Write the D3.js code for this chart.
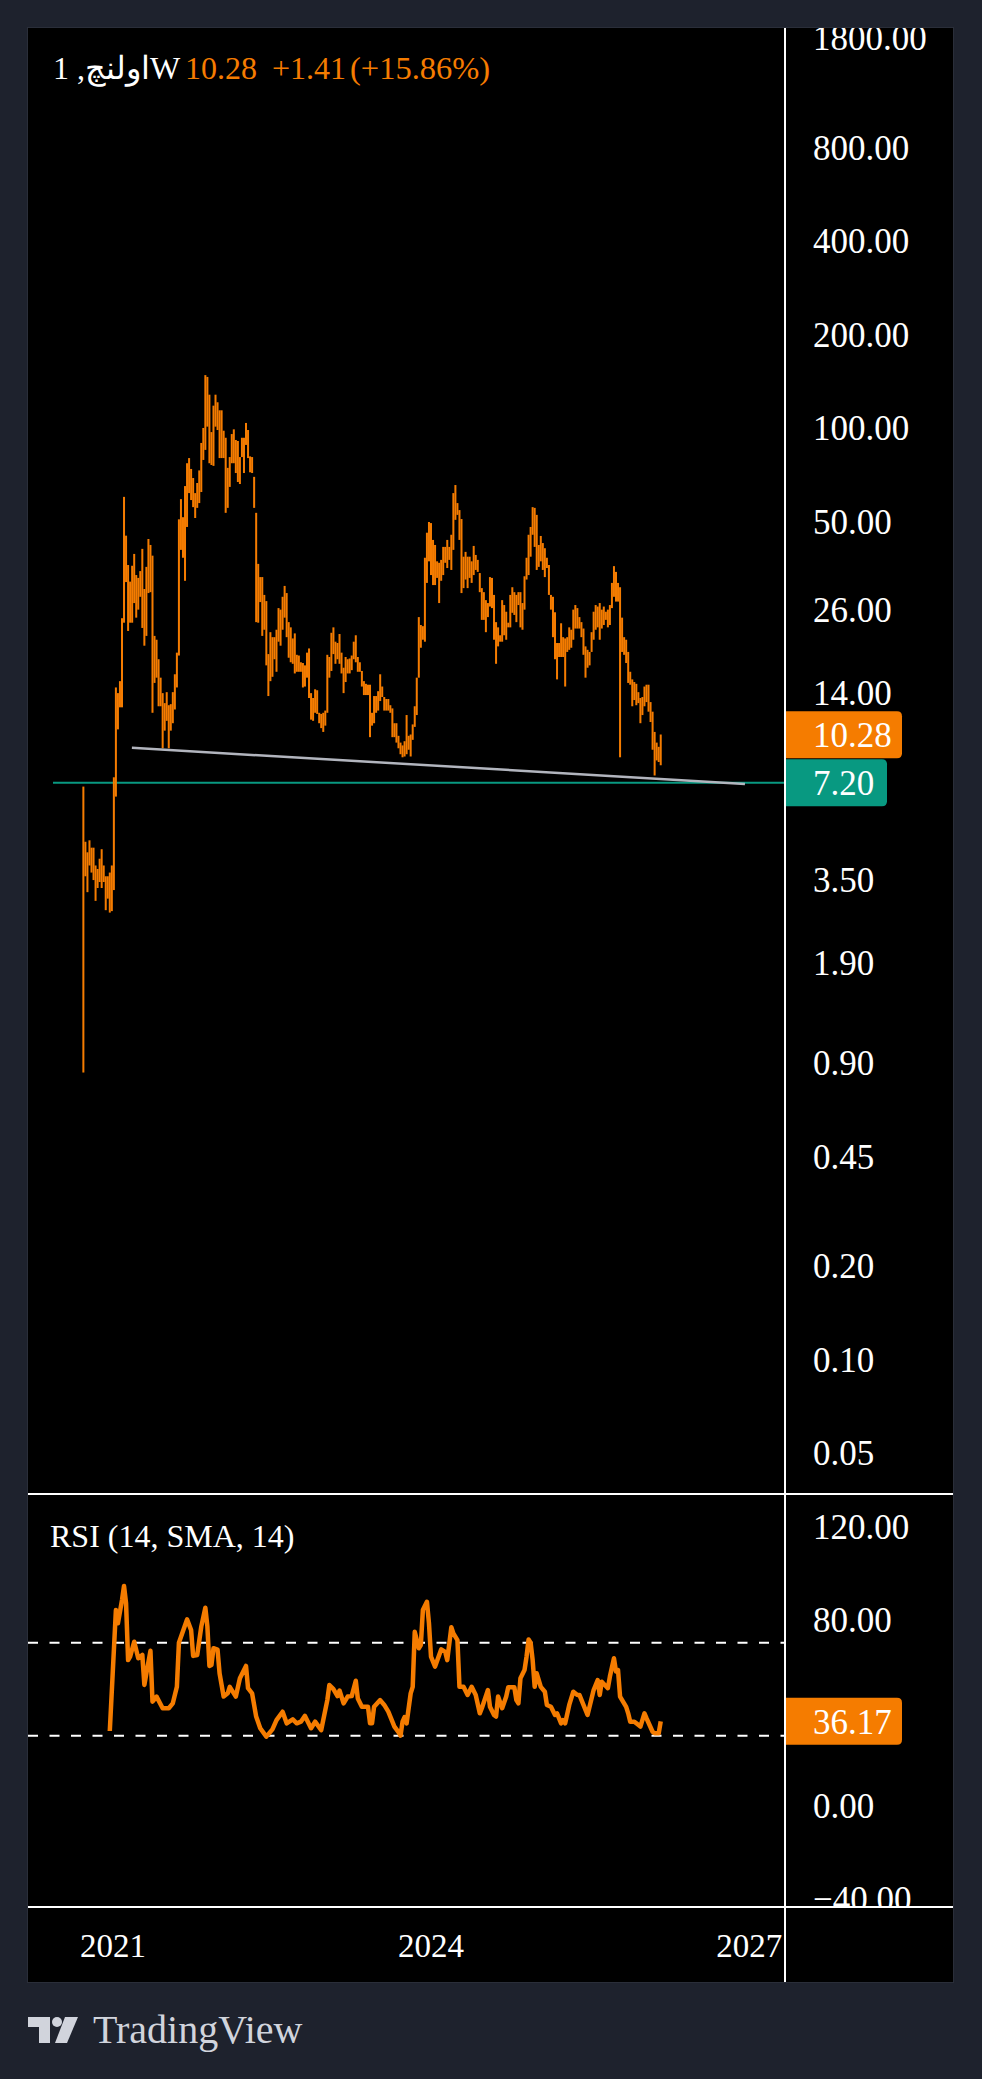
<!DOCTYPE html>
<html lang="fa">
<head>
<meta charset="UTF-8">
<title>اولنچ, 1W</title>
<script src="https://cdn.jsdelivr.net/npm/d3@7"></script>
<style>
  html, body { margin: 0; padding: 0; background: #1e222d; }
  svg { display: block; }
  text { font-family: "Liberation Serif", "DejaVu Serif", serif; }
</style>
</head>
<body>
<svg id="chart" width="982" height="2079"></svg>
<script>
  // weekly bars, first one on the week of 21 Sep 2020
  const firstWeek = new Date(2020, 8, 21);

  const weeklyHigh = [
    7.0, 4.65, 4.3, 4.7, 4.45, 4.45, 3.9, 3.8, 4.1, 4.4,          // 0
    3.9, 3.6, 3.6, 3.7, 3.9, 7.5, 14.6, 14, 15.3, 24.4,           // 10
    60, 45, 36.2, 32, 36, 39.3, 33.6, 32.9, 34.6, 40.8,           // 20
    30.3, 35.7, 43.9, 42, 38.8, 21.4, 20.8, 18, 15.7, 14,         // 30
    13, 14.1, 12.8, 12.9, 14.1, 16.1, 18.9, 50.8, 59, 51.6,       // 40
    65, 77, 80, 73.8, 69, 61.7, 66.5, 73, 89.5, 100,              // 50
    148, 146, 128, 97, 118, 128, 121, 114, 114, 98,               // 60
    93, 74.4, 80.6, 95.6, 99, 91.5, 90.8, 80.6, 93, 93,           // 70
    103.8, 98.5, 81, 80.6, 69.6, 53.3, 36.5, 33.1, 33.1, 29,      // 80
    27.7, 18.7, 22, 21.2, 21.2, 22.4, 26.3, 26, 28.6, 31,         // 90
    29.4, 23.7, 22.8, 21, 21.8, 18.6, 18.5, 17.6, 17.5, 17.2,     // 100
    18.9, 19.5, 14, 13.5, 14.4, 14.3, 12.1, 12, 12.1, 12.3,       // 110
    18.6, 18.3, 21.9, 22.8, 20.5, 20.3, 21.7, 18.9, 16.9, 18.3,   // 120
    18, 18.1, 18.5, 20.5, 21.5, 18.3, 17.6, 16.5, 15.3, 15,       // 130
    14.9, 14.9, 12.1, 13.7, 13.7, 14.2, 16.1, 14.7, 13.6, 13.4,   // 140
    13.4, 12.8, 12.5, 11.2, 11.2, 10.2, 9.7, 9.5, 9.8, 11.9,      // 150
    10.2, 10.3, 11.1, 12.7, 15.7, 24.6, 23.2, 23, 38.2, 46,       // 160
    49.8, 49.4, 43.6, 42, 37.2, 36.8, 37.6, 41.4, 41.4, 43.6,     // 170
    41.4, 45.3, 61.7, 65.5, 57.3, 54.4, 50.9, 38.5, 39.9, 38.5,   // 180
    38.5, 37.2, 41.7, 39, 37.6, 34.1, 30.5, 29.6, 27.9, 27.3,     // 190
    33.1, 32.9, 29, 23.7, 22.8, 21.5, 27.9, 26.9, 25.6, 23.6,     // 200
    29, 30.7, 29.6, 29, 29.6, 29.6, 27.3, 33.3, 38.2, 45.3,       // 210
    48, 55.6, 55.3, 52.5, 42, 44.9, 42.6, 41, 38.2, 36.2,         // 220
    29, 28.6, 25.5, 20.3, 20.3, 23.5, 21.2, 21, 21.2, 22.8,       // 230
    22.4, 26, 26.9, 26.3, 24.6, 23.7, 22.6, 19.8, 19.3, 19,       // 240
    22, 25.6, 26.9, 26.6, 27.3, 26, 26.6, 25.6, 26, 26.9,         // 250
    31.7, 35.9, 34.4, 31.7, 30.7, 24.5, 21.2, 20.8, 19, 16.4,     // 260
    15.5, 15.2, 15, 14.1, 13.5, 13.6, 14.7, 14.9, 14.9, 13.1,     // 270
    12.2, 10.5, 9.7, 9.4, 10.3                                    // 280
  ];

  const weeklyLow = [
    0.84, 3.6, 3.2, 3.9, 3.7, 3.5, 3.0, 3.3, 3.45, 3.3,
    3.45, 2.8, 3.05, 2.75, 2.78, 3.25, 6.5, 10.7, 12.6, 12.6,
    23.6, 31.9, 22.2, 23.6, 23.6, 27.3, 24.5, 26, 28.6, 22.7,
    19.9, 21.4, 29.4, 29.6, 12.1, 15.1, 15.7, 12.7, 12.7, 9.3,
    10.6, 11.4, 9.3, 10.6, 11.2, 12.4, 14.6, 18.5, 40.5, 38.2,
    32.2, 48, 61.7, 58.6, 55.6, 51.3, 55.3, 57.3, 62.2, 78.9,
    85, 101, 77, 76, 75.5, 101, 98.5, 80, 80, 80,
    53.3, 55.3, 64.6, 77, 77, 71.6, 67, 66, 80.6, 71.6,
    88.2, 80, 72, 71.6, 55.3, 23.7, 23.6, 27.5, 21.4, 22.4,
    17.2, 13.7, 15.3, 15.8, 18, 16.4, 20.5, 19.9, 22.4, 24.5,
    21.2, 18.2, 17.6, 17.4, 16.2, 16.4, 16.4, 16.4, 14.6, 14.7,
    15.7, 13.5, 11.5, 11.4, 12.1, 12, 11.2, 10.8, 10.5, 11,
    12.1, 15.7, 16.5, 18.7, 17.4, 18, 17.4, 16.2, 14, 15.2,
    16.2, 16.2, 16.6, 18, 17.6, 16.4, 16.4, 14.7, 13.8, 13.8,
    13.8, 10.1, 11, 11.2, 12.1, 12.3, 13.2, 13.6, 12.3, 12.3,
    12.3, 12.1, 10.1, 10.1, 9.7, 9.3, 8.9, 8.7, 8.75, 8.9,
    9.2, 8.75, 9.9, 10.9, 11.9, 15.7, 19.6, 20.8, 20.5, 31.7,
    37.2, 33.6, 31.2, 31.2, 32.9, 27.3, 32.2, 33.6, 36.8, 35.4,
    37.6, 34.9, 40.5, 50.6, 52.5, 43.6, 29.4, 30.5, 32.5, 30.5,
    32.9, 31.7, 33.6, 34.9, 34.4, 29.6, 24.1, 24.1, 22, 24.6,
    26.6, 26.3, 20.8, 17.4, 19.8, 20.5, 20.5, 21.5, 20.8, 22.8,
    22.8, 25.4, 25, 23.7, 26.9, 22.8, 22.4, 26, 32.5, 33.6,
    38.5, 45.3, 41.4, 34.9, 35.7, 37.2, 34.9, 33.1, 35.4, 29,
    26, 21.2, 18, 15.5, 18.3, 18.3, 18.3, 14.7, 19, 19.3,
    19.6, 20.8, 22.6, 22.6, 22.6, 21.2, 18.6, 15.7, 16.9, 17.2,
    19, 20.8, 22.4, 22.8, 20.8, 22.6, 23.2, 24.1, 22.8, 23.2,
    26.3, 28.6, 27.6, 27.6, 8.7, 19, 18.6, 17.5, 15.1, 14.9,
    12.7, 13.3, 12.8, 13, 11.2, 11.9, 12.7, 13.1, 12.2, 11.3,
    9.2, 7.6, 8.5, 8.4, 8.2
  ];

  // RSI readings: [week index, value]
  const rsiReadings = [
    [13,32],[16,84],[17,78.3],[19,88.3],[20,94.4],[21,86.9],[22,62.5],[23,64],[25,70.4],[27,63.3],
    [29,64.7],[30,51.8],[31,56.8],[33,66.5],[34,44.6],[36,46.8],[39,41.8],[42,41.8],[44,43.9],[46,51],
    [47,70],[51,80],[53,75.4],[54,64.3],[56,64.7],[58,76.9],[60,85],[61,76.9],[62,60],[63,60.4],
    [64,67.6],[66,67],[67,56.8],[69,46.8],[71,48.2],[72,51],[75,46.8],[77,54.7],[80,60],[81,50.4],
    [83,48.2],[85,38.2],[87,33.2],[90,29.6],[93,32.7],[95,36.7],[98,40.3],[100,35.3],[103,37],[105,35.3],
    [107,36],[109,38.5],[112,33.2],[114,36],[117,32.4],[120,45.3],[121,51.8],[123,50],[125,47],[126,49.4],
    [128,43.9],[130,46.8],[132,47],[134,53.6],[135,46],[137,42.4],[140,42.4],[141,35.3],[142,35.3],[143,42.4],
    [146,45.3],[148,43.2],[150,40.3],[153,33.9],[155,31.5],[156,30],[157,36],[158,38],[159,35.3],[161,48.2],
    [162,51],[163,74.7],[165,67.6],[166,69],[167,84],[169,87.6],[170,78.3],[171,64],[173,59.7],[176,67.1],
    [178,66],[179,62.5],[181,76.6],[182,74],[184,71.1],[185,51],[187,51],[189,47.5],[191,51],[193,47.5],
    [195,39.6],[196,41.8],[199,49.6],[200,42.4],[202,38.9],[203,38.2],[204,46.8],[206,41.8],[208,46.8],[209,50.8],
    [212,50.8],[213,45.3],[214,43.9],[215,54.7],[217,58.2],[218,64],[219,71.4],[220,70],[221,62.5],[222,51],
    [223,56.8],[225,51],[227,48.9],[228,43.2],[230,42.4],[232,38.9],[233,39.6],[235,35.3],[236,36.7],[237,35.3],
    [239,43.2],[241,48.9],[243,47.5],[244,47.5],[248,38.9],[251,49.6],[253,53.9],[254,47.5],[255,53.2],[258,50.4],
    [259,55.4],[261,63.3],[262,57.6],[263,58.2],[264,46.8],[267,42.4],[268,39.6],[269,36],[271,36],[272,35.3],
    [274,33.9],[276,39.6],[277,37.5],[280,31.7],[281,31],[283,31],[284,36.17]
  ];

  const priceTicks = [1800, 800, 400, 200, 100, 50, 26, 14, 3.5, 1.9, 0.9, 0.45, 0.2, 0.1, 0.05];
  const rsiTicks = [120, 80, 0, -40];
  const rsiBands = [70, 30];
  const yearTicks = [2021, 2024, 2027];

  const symbolTitle = 'اولنچ, 1W';
  const lastPrice = 10.28, lastChange = 1.41, lastChangePct = 15.86;
  const supportPrice = 7.20;
  const lastRsi = 36.17;
  const trendDates = [new Date(2021, 2, 7), new Date(2026, 11, 17)];
  const trendPrices = [9.33, 7.14];

  const ORANGE = '#f57c00', TEAL = '#089981', WHITE = '#ffffff';
  const L = 28, T = 28, R = 953, B = 1982, AX = 785;
  const PRICE_BOTTOM = 1494, RSI_BOTTOM = 1907;

  const svg = d3.select('#chart');
  const weekDate = i => d3.timeDay.offset(firstWeek, 7 * i);

  const x = d3.scaleTime()
    .domain([new Date(2020, 0, 1), new Date(2027, 0, 1)])
    .range([6.7, 749.3]);
  const y = d3.scaleLog().domain([0.05, 1800]).range([1453, 38.2]);
  const yr = d3.scaleLinear().domain([-40, 120]).range([1898.4, 1526.4]);

  const defs = svg.append('defs');
  function clip(id, x0, y0, w, h) {
    defs.append('clipPath').attr('id', id)
      .append('rect').attr('x', x0).attr('y', y0).attr('width', w).attr('height', h);
  }
  clip('pricePane', L, T, AX - L, PRICE_BOTTOM - T);
  clip('rsiPane', L, PRICE_BOTTOM, AX - L, RSI_BOTTOM - PRICE_BOTTOM);
  clip('priceAxis', AX, T, R - AX, PRICE_BOTTOM - T);
  clip('rsiAxis', AX, PRICE_BOTTOM, R - AX, RSI_BOTTOM - PRICE_BOTTOM);

  svg.append('rect').attr('width', 982).attr('height', 2079).attr('fill', '#1e222d');
  svg.append('rect')
    .attr('x', L - 0.5).attr('y', T - 0.5).attr('width', R - L + 1).attr('height', B - T + 1)
    .attr('fill', '#000').attr('stroke', '#2a2e39').attr('stroke-width', 1);

  // ---- price pane
  const pg = svg.append('g').attr('clip-path', 'url(#pricePane)');

  pg.append('line')
    .attr('x1', 53).attr('x2', AX)
    .attr('y1', y(supportPrice)).attr('y2', y(supportPrice))
    .attr('stroke', TEAL).attr('stroke-width', 2);

  pg.selectAll('rect.bar')
    .data(weeklyHigh.map((h, i) => ({ i, h, l: weeklyLow[i] })))
    .join('rect')
    .attr('class', 'bar')
    .attr('x', d => x(weekDate(d.i)) - 1)
    .attr('width', 2)
    .attr('y', d => y(d.h))
    .attr('height', d => Math.max(1.5, y(d.l) - y(d.h)))
    .attr('fill', ORANGE);

  pg.append('line')
    .attr('x1', x(trendDates[0])).attr('y1', y(trendPrices[0]))
    .attr('x2', x(trendDates[1])).attr('y2', y(trendPrices[1]))
    .attr('stroke', '#b2b5be').attr('stroke-width', 2.5);

  // header
  const hy = 79;
  svg.append('text').attr('x', 53).attr('y', hy).attr('font-size', 32)
    .attr('fill', WHITE).text(symbolTitle);
  svg.append('text').attr('x', 185).attr('y', hy).attr('font-size', 32)
    .attr('fill', ORANGE).text(lastPrice.toFixed(2));
  svg.append('text').attr('x', 272).attr('y', hy).attr('font-size', 32)
    .attr('fill', ORANGE).text('+' + lastChange.toFixed(2));
  svg.append('text').attr('x', 350).attr('y', hy).attr('font-size', 32.5)
    .attr('fill', ORANGE).text('(+' + lastChangePct.toFixed(2) + '%)');

  // price axis
  const pa = svg.append('g').attr('clip-path', 'url(#priceAxis)');
  pa.selectAll('text.tick')
    .data(priceTicks)
    .join('text')
    .attr('class', 'tick')
    .attr('x', 813).attr('y', d => y(d)).attr('dy', '0.35em')
    .attr('font-size', 35).attr('fill', WHITE)
    .text(d => d.toFixed(2));

  function tag(g, cy, w, fill, label) {
    const h = 47, r = 5, x0 = AX, y0 = cy - h / 2;
    g.append('path')
      .attr('d', `M${x0},${y0}H${x0 + w - r}Q${x0 + w},${y0} ${x0 + w},${y0 + r}` +
                 `V${y0 + h - r}Q${x0 + w},${y0 + h} ${x0 + w - r},${y0 + h}H${x0}Z`)
      .attr('fill', fill);
    g.append('text').attr('x', 813).attr('y', cy).attr('dy', '0.35em')
      .attr('font-size', 35).attr('fill', WHITE).text(label);
  }
  tag(pa, y(lastPrice), 117, ORANGE, lastPrice.toFixed(2));
  tag(pa, y(supportPrice), 102, TEAL, supportPrice.toFixed(2));

  // ---- RSI pane
  const rg = svg.append('g').attr('clip-path', 'url(#rsiPane)');
  rg.selectAll('line.band')
    .data(rsiBands)
    .join('line')
    .attr('class', 'band')
    .attr('x1', L).attr('x2', AX)
    .attr('y1', d => yr(d)).attr('y2', d => yr(d))
    .attr('stroke', WHITE).attr('stroke-width', 2).attr('stroke-dasharray', '10,11.5');

  rg.append('path')
    .datum(rsiReadings)
    .attr('d', d3.line().x(d => x(weekDate(d[0]))).y(d => yr(d[1])))
    .attr('fill', 'none').attr('stroke', ORANGE).attr('stroke-width', 4.5)
    .attr('stroke-linejoin', 'round');

  svg.append('text').attr('x', 50).attr('y', 1547).attr('font-size', 32)
    .attr('fill', WHITE).text('RSI (14, SMA, 14)');

  const ra = svg.append('g').attr('clip-path', 'url(#rsiAxis)');
  ra.selectAll('text.tick')
    .data(rsiTicks)
    .join('text')
    .attr('class', 'tick')
    .attr('x', 813).attr('y', d => yr(d)).attr('dy', '0.35em')
    .attr('font-size', 35).attr('fill', WHITE)
    .text(d => (d < 0 ? '−' : '') + Math.abs(d).toFixed(2));
  tag(ra, yr(lastRsi), 117, ORANGE, lastRsi.toFixed(2));

  // ---- time axis
  svg.selectAll('text.year')
    .data(yearTicks)
    .join('text')
    .attr('class', 'year')
    .attr('x', d => x(new Date(d, 0, 1)))
    .attr('y', 1957)
    .attr('text-anchor', 'middle')
    .attr('font-size', 33).attr('fill', WHITE)
    .text(d => d);

  // separators
  [PRICE_BOTTOM, RSI_BOTTOM].forEach(v => {
    svg.append('line').attr('x1', L).attr('x2', R).attr('y1', v).attr('y2', v)
      .attr('stroke', WHITE).attr('stroke-width', 2);
  });
  svg.append('line').attr('x1', AX).attr('x2', AX).attr('y1', T).attr('y2', B)
    .attr('stroke', WHITE).attr('stroke-width', 2);

  // logo
  const logo = svg.append('g').attr('fill', '#d1d4dc');
  logo.append('path').attr('d', 'M28,2017H50V2043H39V2027H28Z');
  logo.append('circle').attr('cx', 57).attr('cy', 2022).attr('r', 5);
  logo.append('path').attr('d', 'M65,2017H78L67,2043H55Z');
  svg.append('text').attr('x', 93).attr('y', 2043).attr('font-size', 40)
    .attr('fill', '#d1d4dc').text('TradingView');
</script>
</body>
</html>
